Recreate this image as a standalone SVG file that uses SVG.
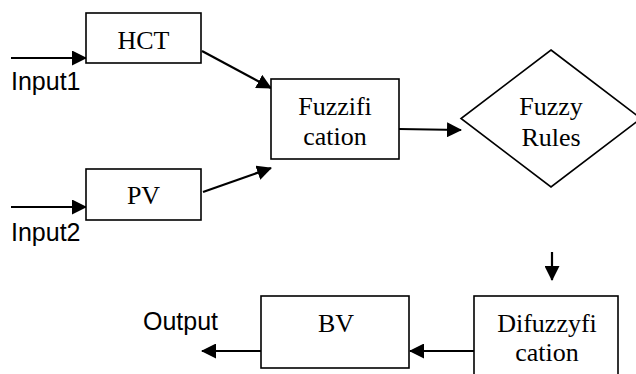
<svg xmlns="http://www.w3.org/2000/svg" width="636" height="374" viewBox="0 0 636 374">
<style>
.box{fill:#fff;stroke:#000;stroke-width:1.6}
.t{font-family:"Liberation Serif","Times New Roman",serif;font-size:26px;fill:#000;text-anchor:middle}
.s{font-family:"Liberation Sans",Arial,sans-serif;font-size:25px;fill:#000}
.c{stroke:#000;stroke-width:2.2;fill:none;marker-end:url(#ah)}
</style>
<defs>
<marker id="ah" markerUnits="userSpaceOnUse" markerWidth="15" markerHeight="15" refX="14" refY="7.5" orient="auto">
<path d="M0,0 L15,7.5 L0,15 z" fill="#000"/>
</marker>
</defs>
<rect width="636" height="374" fill="#fff"/>
<g id="connectors">
<line class="c" x1="11" y1="58" x2="86" y2="58"/>
<line class="c" x1="11" y1="207" x2="86" y2="207"/>
<line class="c" x1="202" y1="51" x2="271" y2="88"/>
<line class="c" x1="203" y1="192" x2="271" y2="168"/>
<line class="c" x1="399" y1="129" x2="461" y2="130"/>
<line class="c" x1="552" y1="252" x2="552" y2="280"/>
<line class="c" x1="474" y1="351" x2="410" y2="351"/>
<line class="c" x1="261" y1="351" x2="202" y2="351"/>
</g>
<g id="hct">
<rect class="box" x="86" y="13" width="115" height="50"/>
<text class="t" x="143.5" y="49">HCT</text>
</g>
<g id="pv">
<rect class="box" x="86" y="169" width="115" height="51"/>
<text class="t" x="143.5" y="204">PV</text>
</g>
<g id="input1"><text class="s" x="11" y="90">Input1</text></g>
<g id="input2"><text class="s" x="11" y="241">Input2</text></g>
<g id="fuzzification">
<rect class="box" x="271" y="79" width="128" height="80"/>
<text class="t" x="335" y="115">Fuzzifi</text>
<text class="t" x="335" y="145">cation</text>
</g>
<g id="rules">
<polygon class="box" points="551,50 641,118.5 551,187 461,118.5"/>
<text class="t" x="551" y="115">Fuzzy</text>
<text class="t" x="551" y="146">Rules</text>
</g>
<g id="difuzzyfication">
<rect class="box" x="474" y="296" width="144" height="90"/>
<text class="t" x="547" y="332">Difuzzyfi</text>
<text class="t" x="547" y="361">cation</text>
</g>
<g id="bv">
<rect class="box" x="261" y="296" width="148" height="72"/>
<text class="t" x="336" y="332">BV</text>
</g>
<g id="output"><text class="s" x="143" y="330">Output</text></g>
</svg>
